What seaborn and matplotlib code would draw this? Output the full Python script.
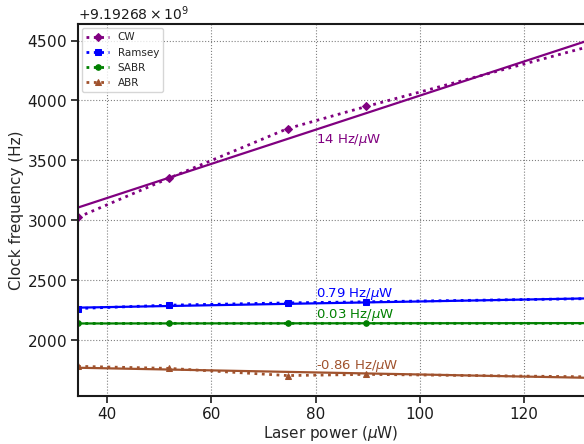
import numpy as np
import seaborn as sns
import matplotlib
matplotlib.use("Agg")
import matplotlib.pyplot as plt
from matplotlib.ticker import ScalarFormatter

# --- data ---
F0 = 9192680000.0  # offset shown on the y axis
# last point lies past the visible right edge (the reference is cropped there)
power = [34.4, 51.9, 74.6, 89.7, 140.0]  # laser power, uW
methods = ["CW", "Ramsey", "SABR", "ABR"]
cw = [3025, 3352, 3765, 3950, 4539]
ramsey = [2263, 2291, 2310, 2319, 2350]
sabr = [2138, 2139, 2139, 2139, 2139]
abr = [1780, 1763, 1703, 1713, 1689]
slopes = [14.25, 0.79, 0.03, -0.86]         # Hz/uW, fitted
intercepts = [2616, 2243, 2137, 1798]       # Hz at 0 uW, fitted
label_pos = [(80, 3648), (80, 2357), (80, 2180), (80, 1760)]
fit_range = [30, 140]

colors = ["purple", "blue", "green", "sienna"]
markers = ["D", "s", "o", "^"]
series = [cw, ramsey, sabr, abr]

sns.set_style("ticks")
plt.rcParams["font.family"] = ["DejaVu Sans"]

fig = plt.figure(figsize=(5.84, 4.44), dpi=100)
ax = fig.add_axes([0.1336, 0.108, 0.8664, 0.838])

for name, vals, col, mk in zip(methods, series, colors, markers):
    sns.lineplot(x=power, y=np.array(vals) + F0, ax=ax, color=col, marker=mk,
                 linestyle=":", lw=2, markersize=4, mec=col, label=name)

x_fit = np.array(fit_range, dtype=float)
for k, b, col in zip(slopes, intercepts, colors):
    sns.lineplot(x=x_fit, y=b + k * x_fit + F0, ax=ax, color=col, lw=1.6,
                 label="_nolegend_")

for k, (tx, ty), col in zip(slopes, label_pos, colors):
    txt = "%.2g Hz/$\\mu$W" % k
    ax.text(tx, ty + F0, txt, color=col, fontsize=9.5)

ax.set_xlim(34.4, 131.5)
ax.set_ylim(1532 + F0, 4639 + F0)
ax.set_xticks([40, 60, 80, 100, 120])
ax.set_yticks(np.arange(2000, 4501, 500) + F0)

fmt = ScalarFormatter(useOffset=F0, useMathText=True)
ax.yaxis.set_major_formatter(fmt)

ax.grid(True, linestyle=":", color="0.5", lw=0.8)
ax.spines["right"].set_visible(False)
for s in ["left", "bottom", "top"]:
    ax.spines[s].set_linewidth(1.5)
    ax.spines[s].set_color("0.1")
ax.tick_params(labelsize=11, length=5, width=1.2, colors="0.1", pad=3)
ax.yaxis.get_offset_text().set_fontsize(10)

ax.set_xlabel("Laser power ($\\mu$W)", fontsize=11, labelpad=1)
ax.set_ylabel("Clock frequency (Hz)", fontsize=11, labelpad=2)

ax.legend(loc="upper left", fontsize=7.5, frameon=True, borderaxespad=0.4,
          handlelength=2.2)

fig.savefig("out.png", dpi=100)
